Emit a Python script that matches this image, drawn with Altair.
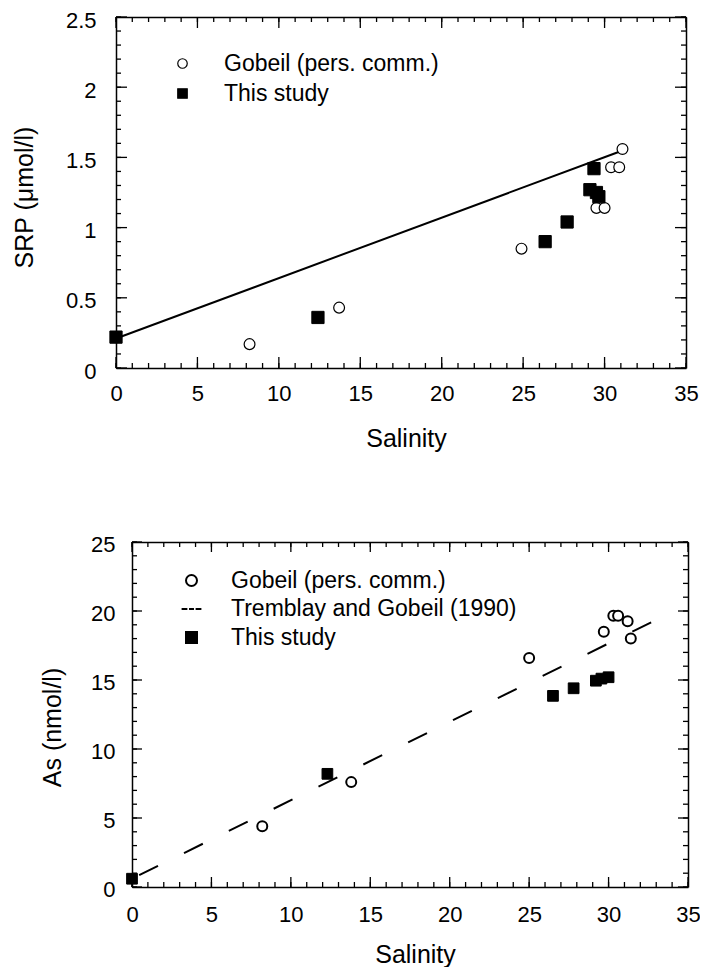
import altair as alt
import pandas as pd

# ---------------- data ----------------
# Panel 1 : SRP vs salinity
srp_gobeil_sal = [8.2, 13.7, 24.9, 29.5, 30.0, 30.4, 30.9, 31.1]
srp_gobeil_val = [0.17, 0.43, 0.85, 1.14, 1.14, 1.43, 1.43, 1.56]
srp_study_sal = [0.0, 12.4, 26.35, 27.7, 29.1, 29.5, 29.65, 29.35]
srp_study_val = [0.22, 0.36, 0.90, 1.04, 1.27, 1.25, 1.22, 1.42]
srp_fit_sal = [0.0, 30.9]
srp_fit_val = [0.21, 1.54]

# Panel 2 : As vs salinity
as_gobeil_sal = [8.2, 13.8, 25.0, 29.7, 30.3, 30.6, 31.2, 31.4]
as_gobeil_val = [4.4, 7.6, 16.6, 18.5, 19.65, 19.65, 19.25, 18.0]
as_study_sal = [0.0, 12.3, 26.5, 27.8, 29.2, 29.55, 30.0]
as_study_val = [0.6, 8.2, 13.85, 14.4, 14.95, 15.1, 15.2]
as_tg_sal = [0.0, 32.9]
as_tg_val = [0.6, 19.3]

# axes
sal_domain = [0, 35]
sal_major = [0, 5, 10, 15, 20, 25, 30, 35]
sal_minor = list(range(0, 36))
srp_domain = [0, 2.5]
srp_major = [0, 0.5, 1, 1.5, 2, 2.5]
srp_minor = [i / 10 for i in range(0, 26)]
as_domain = [0, 25]
as_major = [0, 5, 10, 15, 20, 25]
as_minor = list(range(0, 26))

top_labels = ["Gobeil (pers. comm.)", "This study"]
bot_labels = ["Gobeil (pers. comm.)", "Tremblay and Gobeil (1990)", "This study"]

FONT = "Liberation Sans"
W, H = 572, 870
DASH3 = "M-1.8,0H-0.75M-0.45,0H0.45M0.75,0H1.8"


def df(xs, ys, src):
    return pd.DataFrame({"s": xs, "v": ys, "src": [src] * len(xs)})


def frame_axis(orient, off, **kw):
    return alt.Axis(orient=orient, offset=off, ticks=False, tickSize=0,
                    domain=True, grid=False, **kw)


def make_panel(gx, gy, sx_, sy_, lx, ly, labels, shapes, fills,
               xr, yr, ydom, ymaj, ymin, ytitle, ytitleY, xtitleX,
               xlp, xtp, ylp, ytp, ylo, maj, mnr,
               csize, csw, ssize, line_kw, leg):
    off_b = -(H - yr[0])
    off_t = -yr[1]
    off_l = -xr[0]
    off_r = -(W - xr[1])
    xscale = alt.Scale(domain=sal_domain, range=xr, nice=False, zero=False)
    yscale = alt.Scale(domain=ydom, range=yr, nice=False, zero=False)

    def X(axis, field="s"):
        return alt.X(f"{field}:Q", scale=xscale, axis=axis)

    def Y(axis, field="v"):
        return alt.Y(f"{field}:Q", scale=yscale, axis=axis)

    shape = alt.Shape("src:N", scale=alt.Scale(domain=labels, range=shapes), legend=leg)
    fill = alt.Fill("src:N", scale=alt.Scale(domain=labels, range=fills), legend=leg)
    stroke = alt.Stroke("src:N", scale=alt.Scale(domain=labels, range=["black"] * len(labels)), legend=leg)

    gdf = df(gx, gy, labels[0])
    sdf = df(sx_, sy_, labels[-1])

    circles = alt.Chart(gdf).mark_point(filled=True, strokeWidth=csw,
                                        size=csize, opacity=1).encode(
        x=X(frame_axis("bottom", off_b, values=sal_major, labelPadding=xlp,
                       title="Salinity", titlePadding=xtp, titleX=xtitleX, format="d")),
        y=Y(frame_axis("left", off_l, values=ymaj, labelPadding=ylp, labelOffset=ylo,
                       format="~g", title=ytitle, titlePadding=ytp, titleY=ytitleY)),
        shape=shape, fill=fill, stroke=stroke)
    squares = alt.Chart(sdf).mark_point(filled=True, strokeWidth=1,
                                        size=ssize, opacity=1).encode(
        x=X(frame_axis("top", off_t, labels=False, title=None)),
        y=Y(frame_axis("right", off_r, labels=False, title=None)),
        shape=shape, fill=fill, stroke=stroke)
    line = alt.Chart(pd.DataFrame({"s": lx, "v": ly})).mark_line(color="black", **line_kw).encode(
        x=X(None), y=Y(None))

    # inward tick marks on all four sides, placed by the panel scales
    ticks = []
    for vals, size in ((sal_major, maj), (sal_minor, mnr)):
        d = pd.DataFrame({"t": vals})
        for edge, off in ((ydom[0], -size / 2), (ydom[1], size / 2)):
            ticks.append(alt.Chart(d).mark_tick(
                orient="vertical", size=size, thickness=1.3, color="black",
                opacity=1, yOffset=off).encode(
                x=X(None, "t"),
                y=alt.Y(datum=edge, type="quantitative", scale=yscale, axis=None)))
    for vals, size in ((ymaj, maj), (ymin, mnr)):
        d = pd.DataFrame({"t": vals})
        for edge, off in ((sal_domain[0], size / 2), (sal_domain[1], -size / 2)):
            ticks.append(alt.Chart(d).mark_tick(
                orient="horizontal", size=size, thickness=1.3, color="black",
                opacity=1, xOffset=off).encode(
                y=Y(None, "t"),
                x=alt.X(datum=edge, type="quantitative", scale=xscale, axis=None)))

    return alt.layer(line, circles, squares, *ticks).resolve_axis(
        x="independent", y="independent")


leg_common = dict(orient="none", title=None, padding=0,
                  labelFont=FONT, labelFontSize=23, labelColor="black", labelLimit=0)

top_leg = alt.Legend(legendX=55, legendY=35, symbolSize=90, symbolStrokeWidth=1.2,
                     labelOffset=30, rowPadding=6, **leg_common)
bot_leg = alt.Legend(legendX=64, legendY=552, symbolSize=121, symbolStrokeWidth=2,
                     labelOffset=28, rowPadding=4.5, **leg_common)

top_panel = make_panel(
    srp_gobeil_sal, srp_gobeil_val, srp_study_sal, srp_study_val, srp_fit_sal, srp_fit_val,
    top_labels, ["circle", "square"], ["white", "black"],
    [0, 570], [351, 0], srp_domain, srp_major, srp_minor, "SRP (μmol/l)", 180, 290,
    15, 22, 20, 28, 3, 11, 5,
    117, 1.2, 150, dict(strokeWidth=2), top_leg)

bot_panel = make_panel(
    as_gobeil_sal, as_gobeil_val, as_study_sal, as_study_val, as_tg_sal, as_tg_val,
    bot_labels, ["circle", DASH3, "square"], ["white", "white", "black"],
    [16, 572], [870, 525], as_domain, as_major, as_minor, "As (nmol/l)", 710, 299,
    17, 17, 17, 25, 2, 10, 5,
    100, 2, 115, dict(strokeWidth=2, strokeDash=[21, 29], strokeDashOffset=42), bot_leg)

chart = alt.layer(top_panel, bot_panel).resolve_scale(
    x="independent", y="independent", shape="independent", fill="independent",
    stroke="independent"
).properties(
    width=W, height=H,
    autosize=alt.AutoSizeParams(type="none"),
    padding={"left": 108, "top": 9, "right": 12, "bottom": 84},
).configure_view(stroke=None).configure_axis(
    labelFont=FONT, labelFontSize=22, labelColor="black", labelFlush=False,
    labelOverlap=False, titleFont=FONT, titleFontSize=25, titleFontWeight="normal",
    titleColor="black", domainColor="black", domainWidth=1.5, grid=False,
)

chart.save("out.html", embed_options={"renderer": "svg", "actions": False})
